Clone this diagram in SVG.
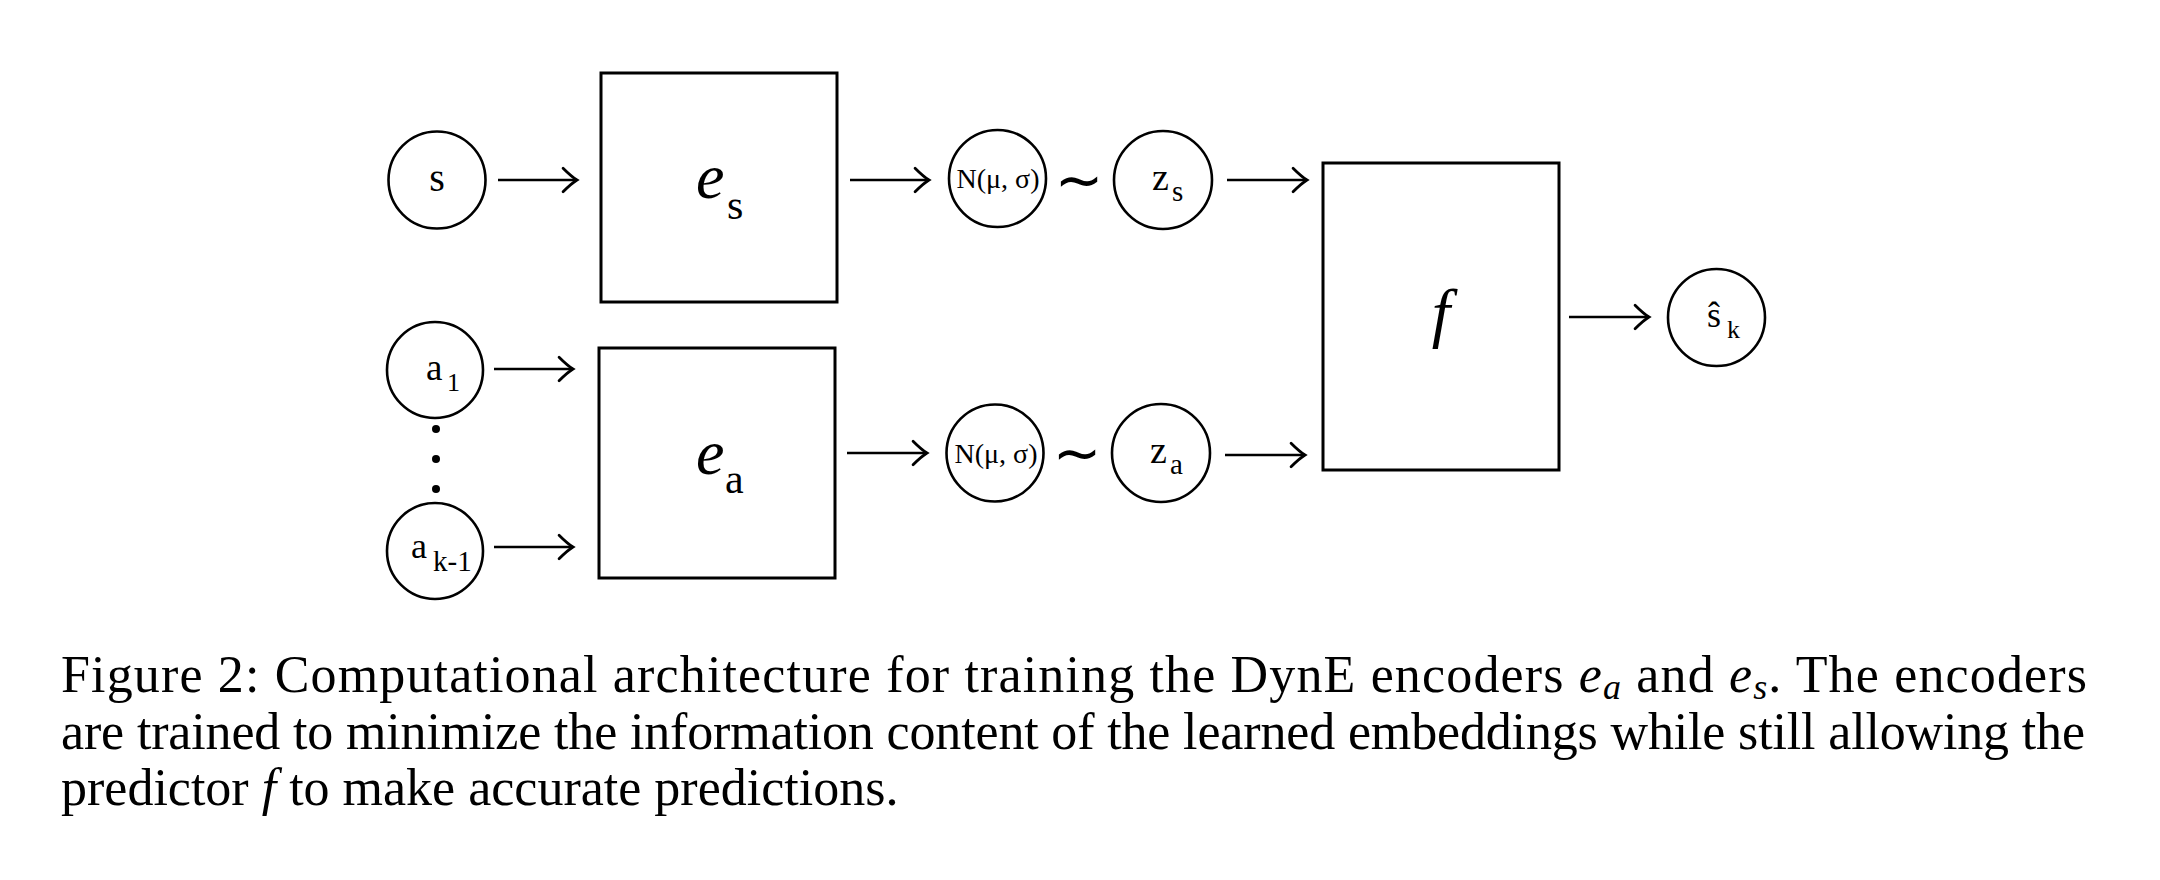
<svg xmlns="http://www.w3.org/2000/svg" width="2160" height="880" viewBox="0 0 2160 880">
<style>
.nd{fill:none;stroke:#000;stroke-width:2.6}
.bx{fill:none;stroke:#000;stroke-width:3}
.cn{fill:none;stroke:#000;stroke-width:2.6}
.t{font-family:"Liberation Serif","Times New Roman",serif;fill:#000}
.it{font-style:italic}
.tl{font-family:"DejaVu Sans",sans-serif;fill:#000;font-size:58px}
</style>
<defs>
<marker id="ah" markerUnits="userSpaceOnUse" markerWidth="30" markerHeight="30" refX="0" refY="0" viewBox="-16 -14 20 28" orient="auto" overflow="visible">
<path d="M -13 -11 Q -5 -3 0 0 Q -5 3 -13 11" fill="none" stroke="#000" stroke-width="2.6" stroke-linecap="round"/>
</marker>
</defs>
<rect width="2160" height="880" fill="#fff"/>

<g id="connectors">
<line class="cn" x1="498" y1="180" x2="577" y2="180" marker-end="url(#ah)"/>
<line class="cn" x1="494" y1="369" x2="573" y2="369" marker-end="url(#ah)"/>
<line class="cn" x1="494" y1="547" x2="573" y2="547" marker-end="url(#ah)"/>
<line class="cn" x1="850" y1="180" x2="929" y2="180" marker-end="url(#ah)"/>
<line class="cn" x1="847" y1="453" x2="927" y2="453" marker-end="url(#ah)"/>
<line class="cn" x1="1227" y1="180" x2="1307" y2="180" marker-end="url(#ah)"/>
<line class="cn" x1="1225" y1="455" x2="1305" y2="455" marker-end="url(#ah)"/>
<line class="cn" x1="1569" y1="317" x2="1649" y2="317" marker-end="url(#ah)"/>
</g>

<g id="node-s">
<circle class="nd" cx="437" cy="180" r="48.5"/>
<text class="t" x="437" y="191" font-size="40" text-anchor="middle">s</text>
</g>

<g id="node-a1">
<circle class="nd" cx="435" cy="370" r="48"/>
<text class="t" x="426" y="380" font-size="37">a</text>
<text class="t" x="447" y="391" font-size="26">1</text>
</g>

<g id="dots">
<circle cx="436" cy="429" r="4" fill="#000"/>
<circle cx="436" cy="459" r="4" fill="#000"/>
<circle cx="436" cy="489" r="4" fill="#000"/>
</g>

<g id="node-ak1">
<circle class="nd" cx="435" cy="551" r="48"/>
<text class="t" x="411" y="558" font-size="36">a</text>
<text class="t" x="433" y="571" font-size="29">k-1</text>
</g>

<g id="node-es">
<rect class="bx" x="601" y="73" width="236" height="229"/>
<text class="t it" x="696" y="198" font-size="64">e</text>
<text class="t" x="727" y="219" font-size="42">s</text>
</g>

<g id="node-ea">
<rect class="bx" x="599" y="348" width="236" height="230"/>
<text class="t it" x="696" y="474" font-size="64">e</text>
<text class="t" x="725" y="493" font-size="42">a</text>
</g>

<g id="node-n-top">
<circle class="nd" cx="997.5" cy="178.5" r="48.5"/>
<text class="t" x="998" y="188" font-size="28" text-anchor="middle">N(μ, σ)</text>
</g>

<g id="tilde-top">
<text class="tl" x="1079" y="200" text-anchor="middle">~</text>
</g>

<g id="node-zs">
<circle class="nd" cx="1163" cy="180" r="49"/>
<text class="t" x="1152" y="190" font-size="38">z</text>
<text class="t" x="1172" y="201" font-size="29">s</text>
</g>

<g id="node-n-bot">
<circle class="nd" cx="995" cy="453" r="48.5"/>
<text class="t" x="996" y="463" font-size="28" text-anchor="middle">N(μ, σ)</text>
</g>

<g id="tilde-bot">
<text class="tl" x="1077" y="473" text-anchor="middle">~</text>
</g>

<g id="node-za">
<circle class="nd" cx="1161" cy="453" r="49"/>
<text class="t" x="1150" y="463" font-size="38">z</text>
<text class="t" x="1170" y="474" font-size="29">a</text>
</g>

<g id="node-f">
<rect class="bx" x="1323" y="163" width="236" height="307"/>
<text class="t it" x="1441" y="335" font-size="66" text-anchor="middle">f</text>
</g>

<g id="node-sk">
<circle class="nd" cx="1716.5" cy="317.5" r="48.5"/>
<text class="t" x="1707" y="327" font-size="36">ŝ</text>
<text class="t" x="1727" y="338" font-size="26">k</text>
</g>

<g id="caption">
<text class="t" x="61" y="692" font-size="52" textLength="2026" lengthAdjust="spacing">Figure 2:  Computational architecture for training the DynE encoders <tspan class="it">e</tspan><tspan class="it" font-size="36" dy="7">a</tspan><tspan dy="-7"> and </tspan><tspan class="it">e</tspan><tspan class="it" font-size="36" dy="7">s</tspan><tspan dy="-7">.  The encoders</tspan></text>
<text class="t" x="61" y="749" font-size="52" textLength="2024" lengthAdjust="spacing">are trained to minimize the information content of the learned embeddings while still allowing the</text>
<text class="t" x="61" y="805" font-size="52">predictor <tspan class="it">f</tspan> to make accurate predictions.</text>
</g>
</svg>
